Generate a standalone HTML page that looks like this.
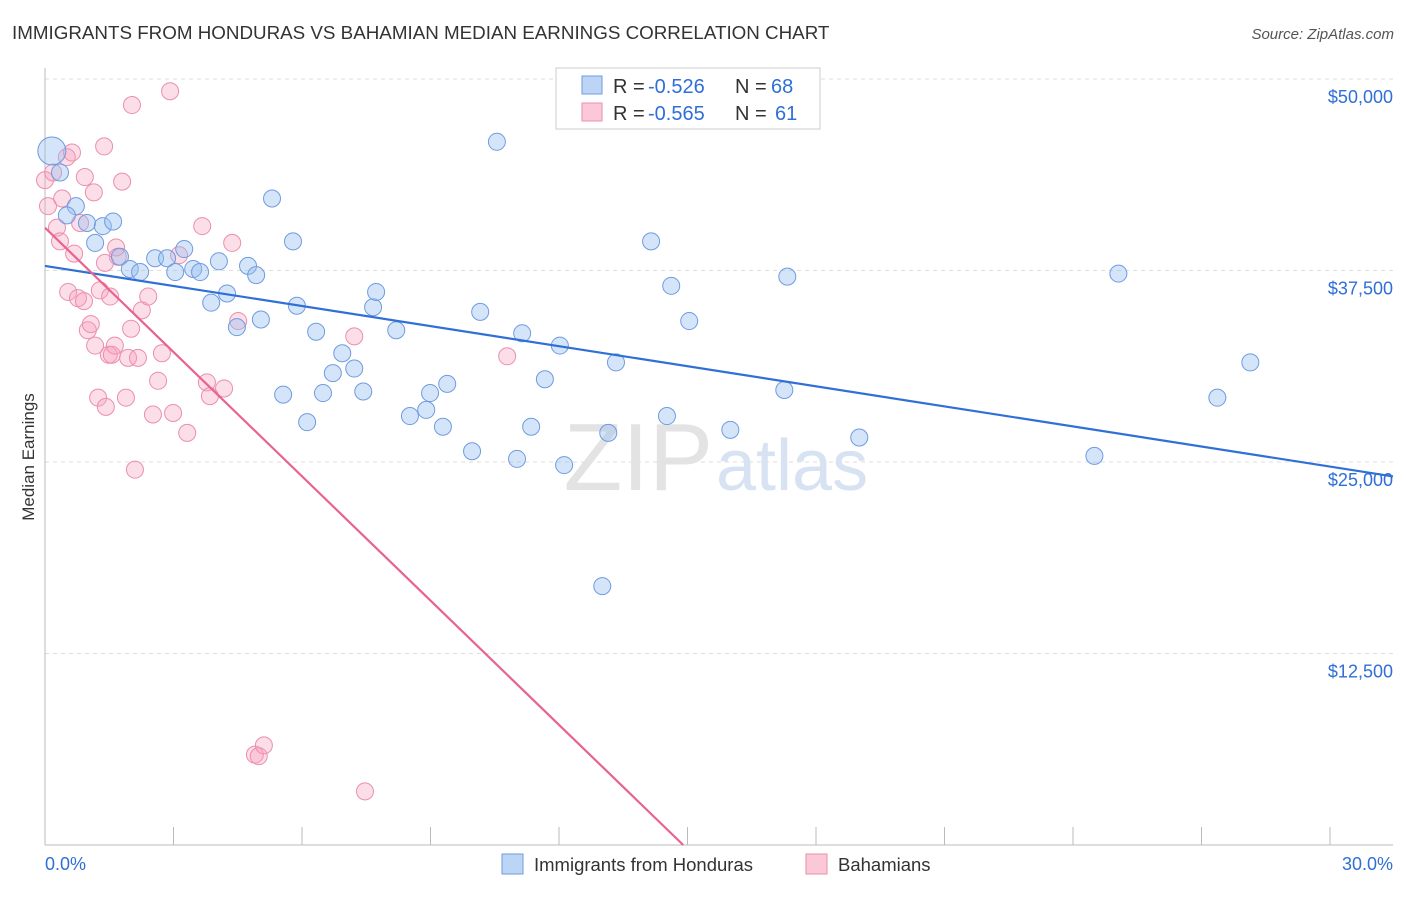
<!DOCTYPE html>
<html><head><meta charset="utf-8"><style>
body{margin:0;background:#fff;font-family:"Liberation Sans",sans-serif}
svg text{font-family:"Liberation Sans",sans-serif}
</style></head><body>
<svg id="c" width="1406" height="892" xmlns="http://www.w3.org/2000/svg">
<text x="12" y="39" font-size="18.8" fill="#333">IMMIGRANTS FROM HONDURAS VS BAHAMIAN MEDIAN EARNINGS CORRELATION CHART</text>
<text x="1394" y="39" font-size="15" fill="#555" font-style="italic" text-anchor="end">Source: ZipAtlas.com</text>
<text x="34" y="457" font-size="17" fill="#333" text-anchor="middle" transform="rotate(-90 34 457)">Median Earnings</text>
<g id="grid"></g>
<text x="713" y="490" font-size="96" fill="#e3e3e3" text-anchor="end" font-family="Liberation Serif">ZIP</text>
<text x="716" y="490" font-size="72" fill="#d7e3f3">atlas</text>
<g id="pts"></g>
<g id="lines"></g>
<g>
<rect x="556" y="68" width="264" height="61" fill="#fff" stroke="#ccc"/>
<rect x="582" y="76" width="20" height="18" fill="#bcd5f5" stroke="#6f9be0"/>
<rect x="582" y="103" width="20" height="18" fill="#fac8d7" stroke="#eb8fac"/>
<text x="613" y="93" font-size="20" fill="#333">R =</text>
<text x="648" y="93" font-size="20" fill="#2f6fd6">-0.526</text>
<text x="735" y="93" font-size="20" fill="#333">N =</text>
<text x="771" y="93" font-size="20" fill="#2f6fd6">68</text>
<text x="613" y="120" font-size="20" fill="#333">R =</text>
<text x="648" y="120" font-size="20" fill="#2f6fd6">-0.565</text>
<text x="735" y="120" font-size="20" fill="#333">N =</text>
<text x="775" y="120" font-size="20" fill="#2f6fd6">61</text>
</g>
<g>
<rect x="502" y="854" width="21" height="20" fill="#bcd5f5" stroke="#6f9be0"/>
<text x="534" y="871" font-size="18.5" fill="#333">Immigrants from Honduras</text>
<rect x="806" y="854" width="21" height="20" fill="#fac8d7" stroke="#eb8fac"/>
<text x="838" y="871" font-size="18.5" fill="#333">Bahamians</text>
</g>
</svg>
<script>
const NS="http://www.w3.org/2000/svg";
const yTicks=[12500,25000,37500,50000];
const yTickLabels=["$12,500","$25,000","$37,500","$50,000"];
const xTicks=[0,3,6,9,12,15,18,21,24,27,30];
const xEndLabels=["0.0%","30.0%"];
const blueX=[0.16,0.35,0.72,1.17,0.98,1.35,1.59,0.51,1.75,1.98,2.22,2.57,2.85,3.04,3.25,3.46,3.62,3.88,4.06,4.25,4.48,4.74,4.93,5.04,5.30,5.56,5.79,5.88,6.12,6.33,6.49,6.72,6.94,7.22,7.43,7.66,7.73,8.20,8.52,8.90,8.99,9.29,9.39,9.97,10.16,10.55,11.02,11.14,11.35,11.67,12.02,12.12,13.01,13.15,13.33,14.15,14.52,14.62,15.04,16.00,17.26,17.33,19.01,24.50,25.06,27.37,28.14];
const blueY=[45300,43900,41700,39300,40600,40400,40700,41100,38400,37600,37400,38300,38300,37400,38900,37600,37400,35400,38100,36000,33800,37800,37200,34300,42200,29400,39400,35200,27600,33500,29500,30800,32100,31100,29600,35100,36100,33600,28000,28400,29500,27300,30100,25700,34800,45900,25200,33400,27300,30400,32600,24800,16900,26900,31500,39400,28000,36500,34200,27100,29700,37100,26600,25400,37300,29200,31500];
const pinkX=[0.00,0.07,0.19,0.28,0.40,0.51,0.63,0.68,0.54,0.77,0.82,0.93,0.91,1.00,1.07,1.14,1.17,1.24,1.28,1.38,1.42,1.49,1.56,1.63,1.66,1.70,1.80,1.89,1.94,2.01,2.03,2.10,2.17,2.26,2.41,2.52,2.64,2.73,2.92,2.99,3.13,3.32,3.67,3.78,3.85,4.18,4.37,4.51,4.90,4.99,5.11,7.22,7.47,10.79,0.35,1.40,1.52];
const pinkY=[43400,41700,43900,40300,42200,44900,45200,38600,36100,35700,40600,43600,35500,33600,34000,42600,32600,29200,36200,45600,28600,32000,32000,32600,39000,38400,43300,29200,31800,33700,48300,24500,31800,34900,35800,28100,30300,32100,49200,28200,38500,26900,40400,30200,29300,29800,39300,34200,5900,5800,6500,33200,3500,31900,39400,38000,35800];
const blueTrend=[37800,-436.6];
const pinkTrend=[40290,-2704];
const x0=45,x1=1330,yB=845,yT=79;
const sx=v=>x0+(v/30)*(x1-x0);
const sy=v=>yB-(v/50000)*(yB-yT);
function mk(t,a,p){const e=document.createElementNS(NS,t);for(const k in a)e.setAttribute(k,a[k]);p.appendChild(e);return e;}
const g=document.getElementById('grid');
yTicks.forEach((v,i)=>{
 const l=mk('line',{x1:45,x2:1393,y1:sy(v),y2:sy(v),stroke:'#ddd','stroke-dasharray':'4,4'},g);
 
 
 const t=mk('text',{x:1393,y:sy(v)+24,'font-size':18,fill:'#2f6fd6','text-anchor':'end'},g);
 t.textContent=yTickLabels[i];
 
 
});
const ax=mk('line',{x1:45,x2:45,y1:68,y2:845,stroke:'#bbb'},g);


const bx=mk('line',{x1:45,x2:1393,y1:845,y2:845,stroke:'#bbb'},g);


xTicks.forEach(v=>{
 const l=mk('line',{x1:sx(v),x2:sx(v),y1:827,y2:845,stroke:'#bbb'},g);
 
 
});
[[0,'start',45],[30,'end',1393]].forEach((d,i)=>{
 const t=mk('text',{x:d[2],y:870,'font-size':18,fill:'#2f6fd6','text-anchor':d[1]},g);
 t.textContent=xEndLabels[i];
 
 
});
const P=document.getElementById('pts');
pinkX.forEach((x,i)=>{
 const c=mk('circle',{cx:sx(x),cy:sy(pinkY[i]),r:8.5,fill:'rgba(245,160,190,0.35)',stroke:'#eb8fac','stroke-width':1},P);
 
 
});
blueX.forEach((x,i)=>{
 const c=mk('circle',{cx:sx(x),cy:sy(blueY[i]),r:i===0?14:8.5,fill:'rgba(150,190,240,0.4)',stroke:'#6f9be0','stroke-width':1},P);
 
 
});
const L=document.getElementById('lines');
const bl=mk('line',{x1:sx(0),y1:sy(blueTrend[0]),x2:1393,y2:sy(blueTrend[0]+blueTrend[1]*((1393-x0)/(x1-x0)*30)),stroke:'#2f6fd6','stroke-width':2.2},L);


const pz=-pinkTrend[0]/pinkTrend[1];
const pl=mk('line',{x1:sx(0),y1:sy(pinkTrend[0]),x2:sx(pz),y2:sy(0),stroke:'#e8638f','stroke-width':2.2},L);


</script>
</body></html>
